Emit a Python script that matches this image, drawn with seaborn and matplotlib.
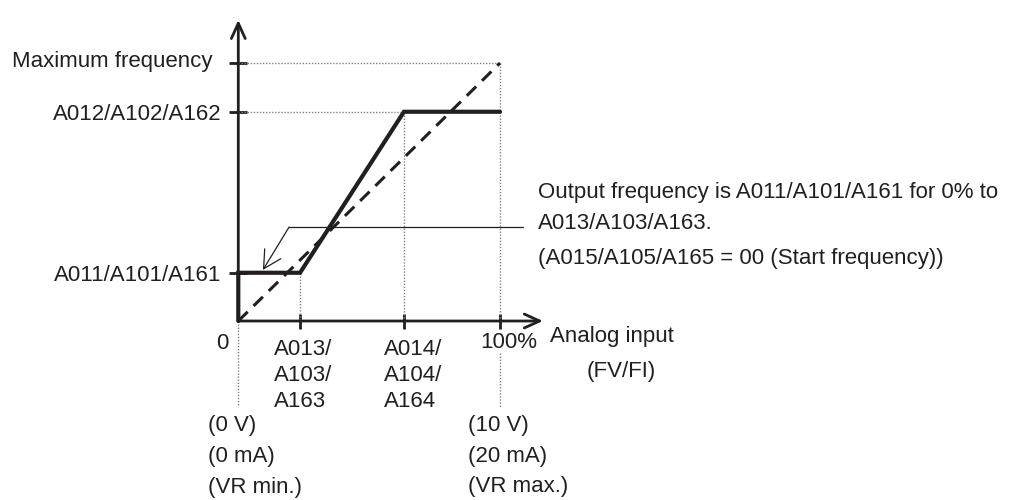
import numpy as np
import pandas as pd
import matplotlib.pyplot as plt
import seaborn as sns
from matplotlib.transforms import ScaledTranslation

# values (x: analog input in %, y: % of maximum frequency)
start_pct = 23.6      # A013/A103/A163
end_pct = 63.3        # A014/A104/A164
full_pct = 100
start_freq = 18.7     # A011/A101/A161
end_freq = 81.1       # A012/A102/A162
max_freq = 100

out_x = [0, 0, start_pct, end_pct, full_pct]
out_y = [0, start_freq, start_freq, end_freq, end_freq]
ref_x = [0, full_pct]
ref_y = [0, max_freq]

x_ticks = [start_pct, end_pct, full_pct]
x_tick_labels = ['A013/\nA103/\nA163', 'A014/\nA104/\nA164', '']
y_ticks = [start_freq, end_freq, max_freq]
y_tick_labels = ['A011/A101/A161', 'A012/A102/A162', '']

note_lines = ['Output frequency is A011/A101/A161 for 0% to',
              'A013/A103/A163.',
              '(A015/A105/A165 = 00 (Start frequency))']
low_lines = ['(0 V)', '(0 mA)', '(VR min.)']
high_lines = ['(10 V)', '(20 mA)', '(VR max.)']

ink = '#231f20'
sns.set_style('white')
plt.rcParams['font.family'] = ['Liberation Sans', 'DejaVu Sans']
plt.rcParams['font.size'] = 16
plt.rcParams['text.color'] = ink

W, H = 1010, 500
fig = plt.figure(figsize=(W / 100, H / 100), dpi=100)
ax = fig.add_axes([238.3 / W, 179 / H, 261.7 / W, 258 / H])
ax.set_xlim(0, 100)
ax.set_ylim(0, 100)
for s in ax.spines.values():
    s.set_visible(False)


def fig_text(px, py, s, **kw):
    fig.text(px / W, 1 - py / H, s, va='baseline', **kw)


# dotted guide lines
dot = dict(color='#808080', lw=1.0, ls=(0, (1, 1.2)), clip_on=False)
ax.plot([0, full_pct], [max_freq, max_freq], **dot)
ax.plot([0, end_pct], [end_freq, end_freq], **dot)
ax.plot([full_pct, full_pct], [max_freq, 0], **dot)
ax.plot([full_pct, full_pct], [-12.4, -33.3], **dot)
ax.plot([end_pct, end_pct], [end_freq, 0], **dot)
ax.plot([start_pct, start_pct], [start_freq, 0], **dot)
ax.plot([0, 0], [0, -32.6], **dot)

# reference (dashed) and output (thick) lines
sns.lineplot(x=ref_x, y=ref_y, sort=False, estimator=None, ax=ax,
             color=ink, lw=2.2, ls=(0, (4.3, 2.7)))
sns.lineplot(x=out_x, y=out_y, sort=False, estimator=None, ax=ax,
             color=ink, lw=3.0, solid_joinstyle='miter')
for ln in ax.get_lines():
    ln.set_clip_on(False)

# axes with open arrow heads
arr = dict(arrowstyle='->,head_length=1.1,head_width=0.5', color=ink, lw=2,
           shrinkA=0, shrinkB=0, mutation_scale=10)
ax.annotate('', xy=(116.4, 0), xytext=(0, 0), arrowprops=arr,
            annotation_clip=False)
ax.annotate('', xy=(0, 116.7), xytext=(0, 0), arrowprops=arr,
            annotation_clip=False)

ax.set_xticks(x_ticks, x_tick_labels)
ax.set_yticks(y_ticks, y_tick_labels)
ax.tick_params(axis='x', bottom=True, direction='inout', length=10.8, width=2,
               color=ink, pad=7.5, labelsize=16, labelcolor=ink)
ax.tick_params(axis='y', left=True, direction='inout', length=13, width=2,
               color=ink, pad=5.5, labelsize=16, labelcolor=ink)
for lab, dx in zip(ax.get_xticklabels(), [3, 9.5, 0]):
    lab.set_multialignment('left')
    lab.set_linespacing(1.3)
    lab.set_transform(lab.get_transform() + ScaledTranslation(dx / 100, 0, fig.dpi_scale_trans))

# callout
ax.plot([19.4, 108.8], [36.4, 36.4], color=ink, lw=0.9, clip_on=False)
ax.annotate('', xy=(9.4, 19.8), xytext=(19.4, 36.4),
            arrowprops=dict(arrowstyle='->,head_length=1.27,head_width=0.68',
                            color=ink, lw=0.9, shrinkA=0, shrinkB=0,
                            mutation_scale=10))

# free texts
fig_text(213, 66.5, 'Maximum frequency', ha='right')
fig_text(222, 349, '0', ha='center')
fig_text(480, 348, '100%')
fig_text(550, 342, 'Analog input')
fig_text(621, 377, '(FV/FI)', ha='center')
for ln, py in zip(note_lines, [198, 229, 264]):
    fig_text(538, py, ln)
for ln, py in zip(low_lines, [431, 462, 493]):
    fig_text(208, py, ln)
for ln, py in zip(high_lines, [431, 462, 492]):
    fig_text(468, py, ln)

fig.savefig('out.png', dpi=100)
